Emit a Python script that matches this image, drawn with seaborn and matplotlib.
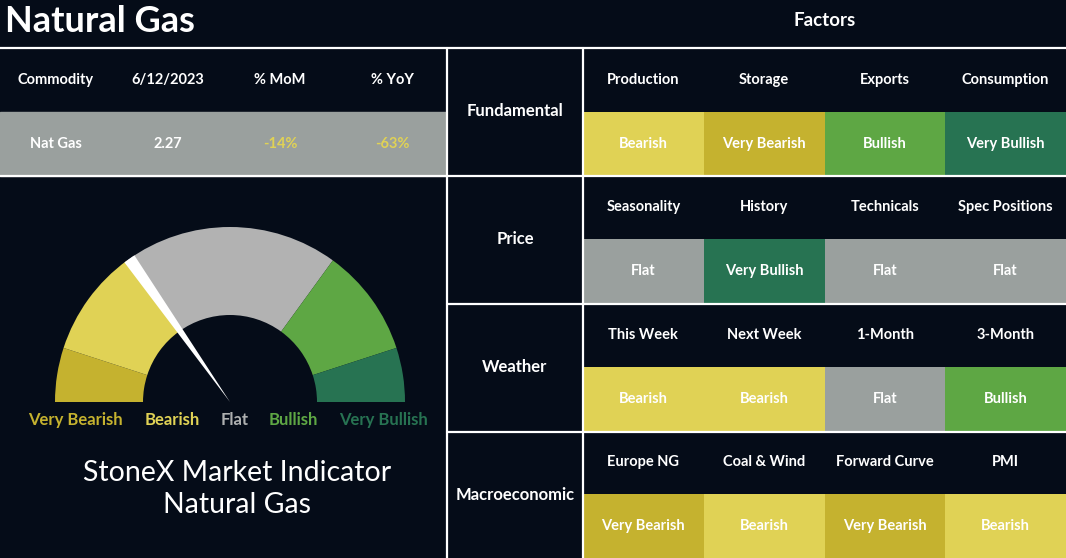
import numpy as np
import matplotlib
matplotlib.use("Agg")
import matplotlib.pyplot as plt
from matplotlib.colors import ListedColormap
from matplotlib.patches import Rectangle, Wedge
import seaborn as sns

# ---- data ----
title = "Natural Gas"
commodity_headers = ["Commodity", "6/12/2023", "% MoM", "% YoY"]
commodity_values = ["Nat Gas", "2.27", "-14%", "-63%"]

signal_levels = ["Very Bearish", "Bearish", "Flat", "Bullish", "Very Bullish"]

factor_groups = ["Fundamental", "Price", "Weather", "Macroeconomic"]
factor_names = [
    ["Production", "Storage", "Exports", "Consumption"],
    ["Seasonality", "History", "Technicals", "Spec Positions"],
    ["This Week", "Next Week", "1-Month", "3-Month"],
    ["Europe NG", "Coal & Wind", "Forward Curve", "PMI"],
]
factor_signals = [
    ["Bearish", "Very Bearish", "Bullish", "Very Bullish"],
    ["Flat", "Very Bullish", "Flat", "Flat"],
    ["Bearish", "Bearish", "Flat", "Bullish"],
    ["Very Bearish", "Bearish", "Very Bearish", "Bearish"],
]

gauge_weights = [1, 2, 4, 2, 1]
needle_value = 3.05  # on the 0..sum(gauge_weights) scale
indicator_text = "StoneX Market Indicator\nNatural Gas"

# ---- style ----
W, H = 1066, 558
BG = "#050c18"
WHITE = "white"
cell_colors = ["#c5b22f", "#e0d255", "#9aa09e", "#5ea744", "#277352"]
gauge_colors = ["#c5b22f", "#e0d255", "#b2b2b2", "#5ea744", "#277352"]
label_colors = ["#c5b22f", "#e0d255", "#aeb0b0", "#5ea744", "#277352"]
commodity_value_colors = [WHITE, WHITE, "#e0d255", "#e0d255"]

sns.set_theme(style="white")
plt.rcParams["font.family"] = ["Lato", "DejaVu Sans"]

fig = plt.figure(figsize=(W / 100, H / 100), dpi=100, facecolor=BG)

# factor grid as a heatmap: header rows = -1 (background), signal rows = level index
n_rows = len(factor_groups) * 2
mat = np.zeros((n_rows, 4))
annot = np.empty((n_rows, 4), dtype=object)
for g in range(len(factor_groups)):
    for c in range(4):
        mat[2 * g, c] = -1
        annot[2 * g, c] = factor_names[g][c]
        mat[2 * g + 1, c] = signal_levels.index(factor_signals[g][c])
        annot[2 * g + 1, c] = factor_signals[g][c]

cmap = ListedColormap([BG] + cell_colors)
grid_left, grid_top = 583, 48
ax_hm = fig.add_axes([grid_left / W, 0, (W - grid_left) / W, (H - grid_top) / H])
sns.heatmap(mat, ax=ax_hm, cmap=cmap, vmin=-1.5, vmax=len(signal_levels) - 0.5,
            cbar=False, annot=annot, fmt="", xticklabels=False, yticklabels=False,
            annot_kws=dict(color=WHITE, fontsize=10.5, fontweight="bold"))
ax_hm.set_zorder(1)

# overlay axes in pixel coordinates (y downwards)
ax = fig.add_axes([0, 0, 1, 1])
ax.set_xlim(0, W)
ax.set_ylim(H, 0)
ax.axis("off")
ax.set_zorder(2)
ax.patch.set_alpha(0)

ax.text(5, 22, title, color=WHITE, fontsize=26, fontweight="bold", va="center", ha="left")
ax.text(825, 21, "Factors", color=WHITE, fontsize=13.5, fontweight="bold", ha="center", va="center")

# commodity table
ax.add_patch(Rectangle((0, 112), 446, 64, color="#9aa09e", zorder=1))
for i, (hd, val) in enumerate(zip(commodity_headers, commodity_values)):
    x = 56 + i * 112
    ax.text(x, 80, hd, color=WHITE, fontsize=10.5, fontweight="bold", ha="center", va="center")
    ax.text(x, 144, val, color=commodity_value_colors[i], fontsize=10.5,
            fontweight="bold", ha="center", va="center")

# group labels
for g, name in enumerate(factor_groups):
    ax.text(515, 111.5 + 128 * g, name, color=WHITE, fontsize=12, fontweight="bold",
            ha="center", va="center")

# white grid lines
lw = 1.6
ax.plot([0, W], [47.5, 47.5], color=WHITE, lw=lw, zorder=3)
ax.plot([0, W], [175.5, 175.5], color=WHITE, lw=lw, zorder=3)
for y in [303.5, 431.5]:
    ax.plot([447, W], [y, y], color=WHITE, lw=lw, zorder=3)
for x in [447, 583]:
    ax.plot([x, x], [47.5, H], color=WHITE, lw=lw, zorder=3)

# gauge
cx, cy, R, r = 230, 402, 175, 87
cum = np.concatenate([[0], np.cumsum(gauge_weights)])
total = cum[-1]
deg = 180 - cum / total * 180
for i in range(len(gauge_weights)):
    ax.add_patch(Wedge((cx, cy), R, -deg[i], -deg[i + 1], width=R - r,
                       facecolor=gauge_colors[i], edgecolor="none", zorder=2))
nd = 180 - needle_value / total * 180
ax.add_patch(Wedge((cx, cy), R, -(nd + 2), -(nd - 2), facecolor=WHITE,
                   edgecolor="none", zorder=4))

gauge_label_x = [75, 172, 235, 293, 383]
for x, lab, col in zip(gauge_label_x, signal_levels, label_colors):
    ax.text(x, 420, lab, color=col, fontsize=12, fontweight="bold", ha="center", va="center")

ax.text(237, 489, indicator_text, color=WHITE, fontsize=20.5, ha="center", va="center",
        linespacing=1.3)

fig.savefig("out.png", dpi=100, facecolor=BG)
